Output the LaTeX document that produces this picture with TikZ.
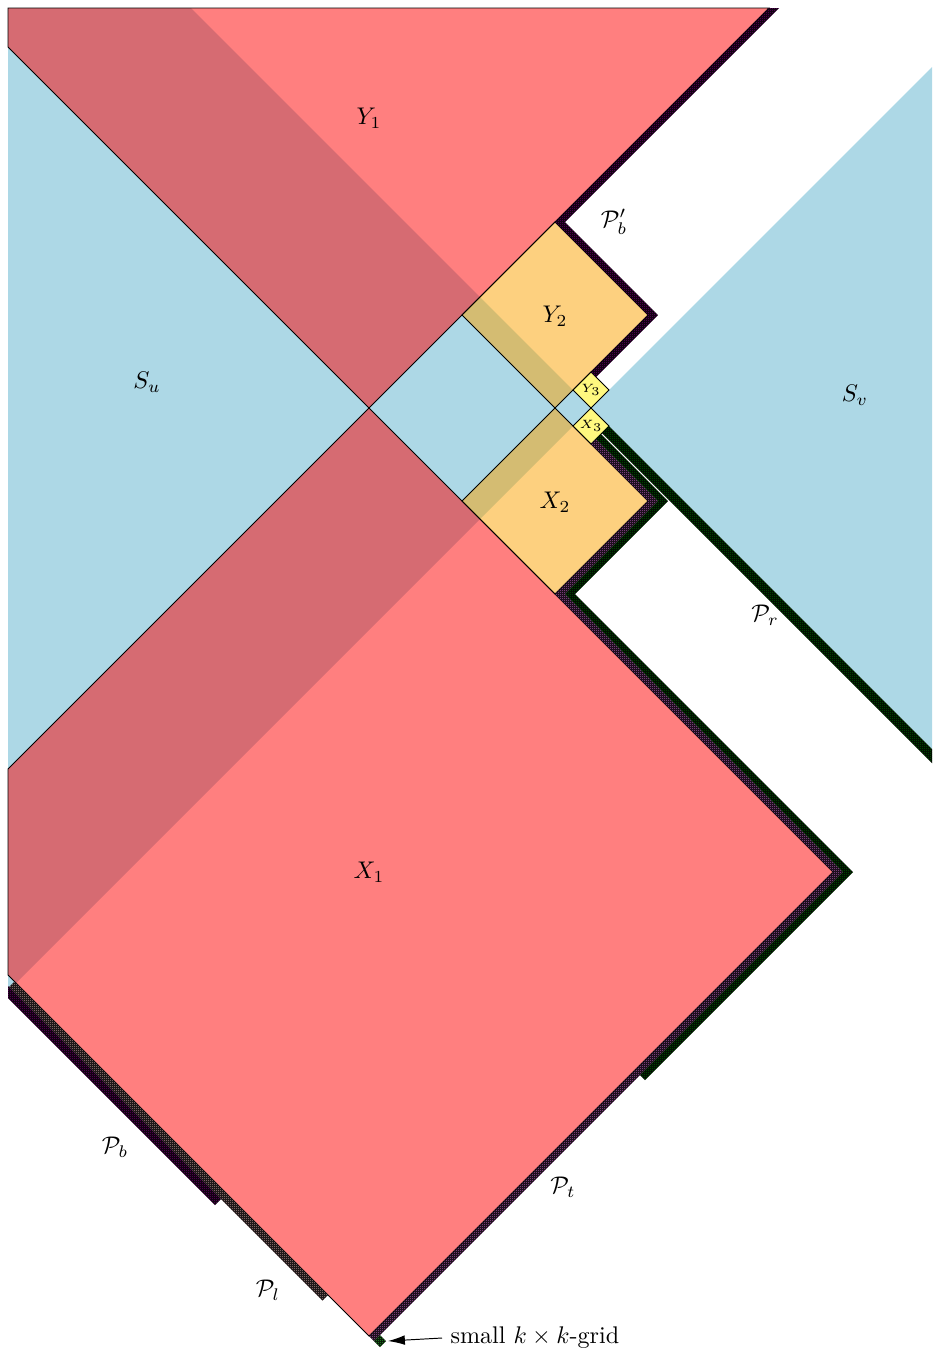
\documentclass[tikz,border=0pt]{standalone}
\usetikzlibrary{arrows.meta,patterns.meta}

\definecolor{sublue}{RGB}{173,216,230}
\definecolor{midorange}{RGB}{251,161,0}
\definecolor{pathpurple}{RGB}{150,0,150}
\definecolor{pathmagenta}{RGB}{240,120,240}
\definecolor{pathpink}{RGB}{250,200,200}
\definecolor{pathgreen}{RGB}{0,130,0}
\definecolor{gridgreen}{RGB}{60,230,60}

% fine checker, one cell per vertex of the grid
\tikzdeclarepattern{
  name=kgrid,
  type=uncolored,
  bottom left={(0pt,0pt)},
  top right={(0.83pt,0.83pt)},
  tile size={(0.83pt,0.83pt)},
  code={
    \fill (0pt,0pt) rectangle (0.415pt,0.415pt);
    \fill (0.415pt,0.415pt) rectangle (0.83pt,0.83pt);
  }
}

\begin{document}
\begin{tikzpicture}[x=0.415pt, y=-0.415pt, >=Latex,
    region/.style={draw=black, line width=0.4pt, fill opacity=0.5},
    gridband/.style={preaction={fill=black}, pattern=kgrid, pattern color=#1}]
    \useasboundingbox (0,0) rectangle (932,1353);

    % the two separators
    \fill[sublue] (591,408) -- (191,8) -- (8,8) -- (8,991) -- cycle;
    \fill[sublue] (591,408) -- (932,67) -- (932,749) -- cycle;

    % nested squares
    \filldraw[region, fill=red] (8,8) -- (769,8) -- (369,408) -- (8,47) -- cycle;
    \filldraw[region, fill=red] (8,769) -- (369,408) -- (833,872) -- (369,1336) -- (8,975) -- cycle;
    \filldraw[region, fill=midorange] (555,222) -- (648,315) -- (555,408) -- (462,315) -- cycle;
    \filldraw[region, fill=midorange] (555,408) -- (648,501) -- (555,594) -- (462,501) -- cycle;
    \filldraw[region, fill=yellow] (591,372) -- (609,390) -- (591,408) -- (573,390) -- cycle;
    \filldraw[region, fill=yellow] (591,408) -- (609,426) -- (591,444) -- (573,426) -- cycle;

    % paths of the grid
    \begin{scope}
      \clip (8,8) rectangle (932,1353);
      \fill[gridband=pathpurple] (769,8) -- (779,8) -- (565,222) -- (658,315) -- (596,377) -- (591,372) -- (648,315) -- (555,222) -- cycle;
      \fill[gridband=pathmagenta] (591,444) -- (648,501) -- (555,594) -- (833,872) -- (369,1336) -- (374,1341) -- (843,872) -- (565,594) -- (658,501) -- (596,439) -- cycle;
      \fill[gridband=pathgreen] (596,439) -- (658,501) -- (565,594) -- (843,872) -- (640,1075) -- (645,1080) -- (853,872) -- (575,594) -- (668,501) -- (601,434) -- cycle;
      \fill[gridband=pathgreen] (602,433) -- (609,426) -- (992,809) -- (985,816) -- cycle;
      \fill[gridband=pathpink] (14.5,981.5) -- (328,1295) -- (322.5,1300.5) -- (9,987) -- cycle;
      \fill[gridband=pathpurple] (6,984) -- (221,1199) -- (215,1205) -- (0,990) -- cycle;
    \end{scope}
    \fill[gridband=gridgreen] (374,1341) -- (380,1335) -- (386,1341) -- (380,1347) -- cycle;
    \coordinate (kcorner) at (388,1341);

    % labels
    \node (su) at (147,382) {$S_u$};
    \node (sv) at (855,395) {$S_v$};
    \node (yone) at (369,118) {$Y_1$};
    \node (xone) at (369,872) {$X_1$};
    \node (ytwo) at (555,316) {$Y_2$};
    \node (xtwo) at (555,502) {$X_2$};
    \node[font=\tiny, inner sep=0pt] (ythree) at (591,390) {$Y_3$};
    \node[font=\tiny, inner sep=0pt] (xthree) at (591,426) {$X_3$};
    \node (pbtop) at (614,222) {$\mathcal{P}'_b$};
    \node (pr) at (765,615) {$\mathcal{P}_r$};
    \node (pb) at (115,1147) {$\mathcal{P}_b$};
    \node (pt) at (563,1187) {$\mathcal{P}_t$};
    \node (pl) at (268,1290) {$\mathcal{P}_l$};
    \node[anchor=west] (gridnote) at (442,1338) {small $k\times k$-grid};
    \draw[-{Latex[length=7pt,width=4pt]}] (gridnote.west) -- (kcorner);
\end{tikzpicture}
\end{document}
